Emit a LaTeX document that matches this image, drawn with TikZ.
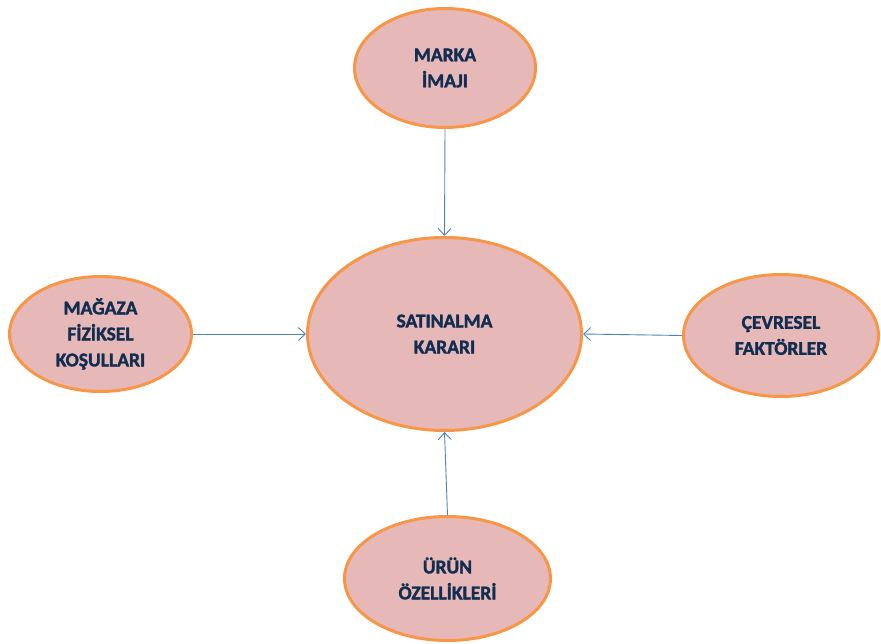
\documentclass[tikz,border=0pt]{standalone}
\usepackage{fontspec}
\setmainfont{Carlito}[BoldFeatures={FakeBold=1.6}]
\usetikzlibrary{shapes.geometric,arrows.meta}
\definecolor{kenar}{HTML}{F79646}
\definecolor{dolgu}{HTML}{E6B9B8}
\definecolor{okrenk}{HTML}{4F81BD}
\definecolor{yazi}{HTML}{122D50}

\begin{document}
\begin{tikzpicture}[x=1pt,y=-1pt,
  balon/.style={ellipse, draw=kenar, fill=dolgu, line width=3pt, inner sep=0pt,
    align=center, text=yazi, font=\bfseries\fontsize{19.5}{26}\selectfont},
  okcizgi/.style={okrenk, line width=0.9pt, -{Straight Barb[length=7pt,width=13pt]}}]

\useasboundingbox (0,0) rectangle (881,644);

\node[balon, minimum width=274, minimum height=193] (karar) at (444.5,334) {SATINALMA\\KARARI};
\node[balon, minimum width=181, minimum height=119] (marka) at (445,68) {MARKA\\İMAJI};
\node[balon, minimum width=182, minimum height=115] (magaza) at (100.5,334) {MAĞAZA\\FİZİKSEL\\KOŞULLARI};
\node[balon, minimum width=195, minimum height=122] (cevre) at (781,335.5) {ÇEVRESEL\\FAKTÖRLER};
\node[balon, minimum width=206, minimum height=124] (urun) at (447.5,578.5) {ÜRÜN\\ÖZELLİKLERİ};

\draw[okcizgi] (marka.south) -- (karar.north);
\draw[okcizgi] (magaza.east) -- (karar.west);
\draw[okcizgi] (cevre.west) -- (karar.east);
\draw[okcizgi] (urun.north) -- (karar.south);

\end{tikzpicture}
\end{document}
